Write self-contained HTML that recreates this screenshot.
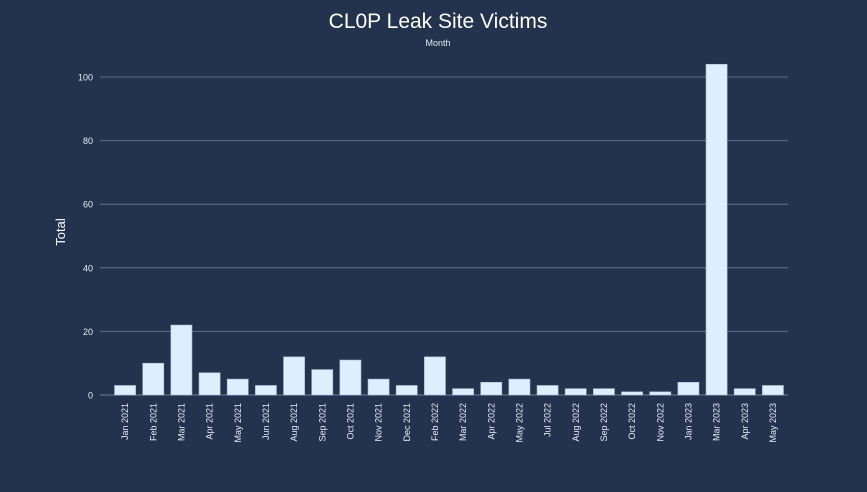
<!DOCTYPE html>
<html><head><meta charset="utf-8"><style>
body{margin:0;background:#23334d;}
svg{display:block;font-family:"Liberation Sans",sans-serif;}
</style></head><body>
<svg id="chart" width="867" height="492">
<rect width="867" height="492" fill="#23334d"/>
<text x="438" y="28" text-anchor="middle" font-size="21" fill="#ffffff">CL0P Leak Site Victims</text>
<text x="438" y="46" text-anchor="middle" font-size="9" fill="#e6ecf5">Month</text>
<text transform="translate(65,232) rotate(-90)" text-anchor="middle" font-size="13" fill="#ffffff">Total</text>
<g id="grid"></g><g id="bars"></g><g id="xlabels"></g>
</svg>
<script>
const categories=["Jan 2021","Feb 2021","Mar 2021","Apr 2021","May 2021","Jun 2021","Aug 2021","Sep 2021","Oct 2021","Nov 2021","Dec 2021","Feb 2022","Mar 2022","Apr 2022","May 2022","Jul 2022","Aug 2022","Sep 2022","Oct 2022","Nov 2022","Jan 2023","Mar 2023","Apr 2023","May 2023"];
const values=[3,10,22,7,5,3,12,8,11,5,3,12,2,4,5,3,2,2,1,1,4,104,2,3];
const yTicks=[0,20,40,60,80,100];
const NS="http://www.w3.org/2000/svg";
const x0=111,x1=787,yBase=395,yTop=77,yMax=100;
const step=(x1-x0)/categories.length;
function xC(i){return x0+step*(i+0.5);}
function y(v){return yBase-(v/yMax)*(yBase-yTop);}
function mk(t,a,p){const e=document.createElementNS(NS,t);for(const k in a)e.setAttribute(k,a[k]);p.appendChild(e);return e;}
const g=document.getElementById('grid');
yTicks.forEach(t=>{
  const l=mk('line',{x1:100,x2:788,y1:y(t),y2:y(t),stroke:t===0?'#6d7d98':'#5e6f8c','stroke-width':1},g);
  
  
  const tx=mk('text',{x:93,y:y(t)+3.5,'text-anchor':'end','font-size':9,fill:'#e6ecf5'},g);
  tx.textContent=t;
  
  
});
const b=document.getElementById('bars'),xl=document.getElementById('xlabels');
const bw=step*0.75;
values.forEach((v,i)=>{
  const r=mk('rect',{x:xC(i)-bw/2,y:y(v),width:bw,height:yBase-y(v),fill:'#ddeeff',stroke:'#a9b9d0','stroke-width':0.6},b);
  
  
  const t=mk('text',{transform:`translate(${xC(i)+3},403) rotate(-90)`,'text-anchor':'end','font-size':9,fill:'#e6ecf5'},xl);
  t.textContent=categories[i];
  
  
});
</script>
</body></html>
